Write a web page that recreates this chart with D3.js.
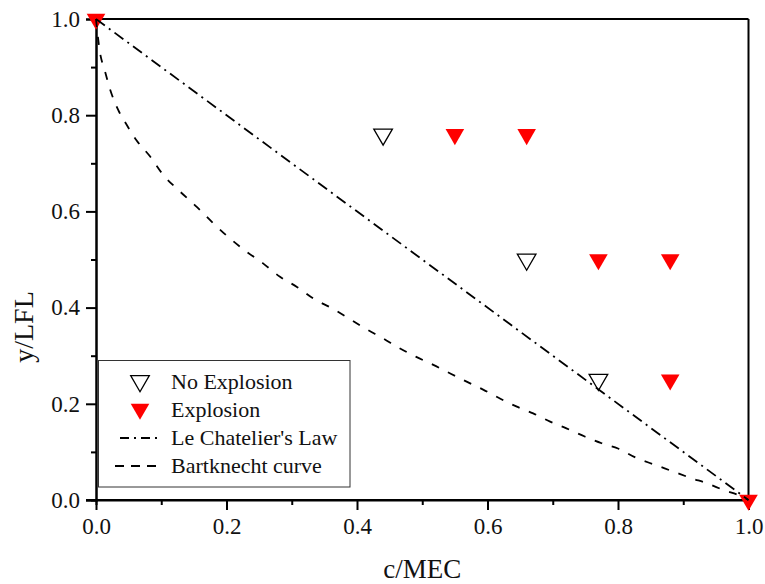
<!DOCTYPE html>
<html>
<head>
<meta charset="utf-8">
<script src="https://cdn.jsdelivr.net/npm/d3@7"></script>
<style>
  html, body { margin: 0; padding: 0; background: #fff; }
  svg { display: block; }
</style>
</head>
<body>
<div id="chart"></div>
<script>
// ---------- data ----------
const xTicks = [0.0, 0.2, 0.4, 0.6, 0.8, 1.0];
const yTicks = [0.0, 0.2, 0.4, 0.6, 0.8, 1.0];
const minorTicks = [0.1, 0.3, 0.5, 0.7, 0.9];

const noExplosionX = [0.44, 0.66, 0.77];
const noExplosionY = [0.76, 0.50, 0.25];

const explosionX = [0.0, 0.55, 0.66, 0.77, 0.88, 0.88, 1.0];
const explosionY = [1.0, 0.76, 0.76, 0.50, 0.50, 0.25, 0.0];

const leChatelierX = [0.0, 1.0];
const leChatelierY = [1.0, 0.0];

const bartknechtX = [0, 0.005, 0.014, 0.022, 0.034, 0.047, 0.062, 0.083, 0.103, 0.129, 0.154, 0.18, 0.205, 0.231, 0.256, 0.282, 0.308, 0.333, 0.361, 0.387, 0.412, 0.44, 0.466, 0.49, 0.517, 0.543, 0.568, 0.594, 0.619, 0.645, 0.67, 0.696, 0.721, 0.749, 0.775, 0.8, 0.829, 0.857, 0.885, 0.913, 0.936, 0.961, 0.99, 1.0];
const bartknechtY = [1.0, 0.94, 0.89, 0.852, 0.811, 0.78, 0.748, 0.714, 0.676, 0.641, 0.61, 0.575, 0.544, 0.516, 0.492, 0.464, 0.443, 0.419, 0.399, 0.378, 0.357, 0.336, 0.315, 0.298, 0.281, 0.263, 0.246, 0.229, 0.211, 0.194, 0.18, 0.163, 0.149, 0.132, 0.118, 0.107, 0.087, 0.073, 0.059, 0.045, 0.035, 0.021, 0.007, 0.0];

const legendLabels = ["No Explosion", "Explosion", "Le Chatelier's Law", "Bartknecht curve"];
const xTitle = "c/MEC";
const yTitle = "y/LFL";

// ---------- layout ----------
const W = 765, H = 584;
const FONT = "'Liberation Serif', 'Times New Roman', Times, serif";
const m = { left: 96, right: 765 - 748.5, top: 19, bottom: 584 - 500 };

const svg = d3.select("#chart").append("svg").attr("width", W).attr("height", H);
svg.append("rect").attr("width", W).attr("height", H).attr("fill", "#fff");

const x = d3.scaleLinear().domain([0, 1]).range([m.left, W - m.right]);
const y = d3.scaleLinear().domain([0, 1]).range([H - m.bottom, m.top]);

// frame (top and right)
svg.append("line").attr("x1", x(0)).attr("x2", x(1)).attr("y1", y(1)).attr("y2", y(1))
  .attr("stroke", "#000").attr("stroke-width", 2);
svg.append("line").attr("x1", x(1)).attr("x2", x(1)).attr("y1", y(0)).attr("y2", y(1))
  .attr("stroke", "#000").attr("stroke-width", 2);

// bottom axis
const fmt = d3.format(".1f");
const gx = svg.append("g").attr("transform", `translate(0,${y(0)})`);
gx.call(d3.axisBottom(x).tickValues(xTicks).tickFormat(fmt).tickSize(10).tickPadding(8));
const gxm = svg.append("g").attr("transform", `translate(0,${y(0)})`);
gxm.call(d3.axisBottom(x).tickValues(minorTicks).tickFormat("").tickSize(5));

// left axis
const gy = svg.append("g").attr("transform", `translate(${x(0)},0)`);
gy.call(d3.axisLeft(y).tickValues(yTicks).tickFormat(fmt).tickSize(10).tickPadding(6));
const gym = svg.append("g").attr("transform", `translate(${x(0)},0)`);
gym.call(d3.axisLeft(y).tickValues(minorTicks).tickFormat("").tickSize(5));

[gx, gxm, gy, gym].forEach(g => {
  g.attr("font-family", null).attr("font-size", null);
  g.select(".domain").attr("stroke", "#000").attr("stroke-width", 2);
  g.selectAll(".tick line").attr("stroke", "#000").attr("stroke-width", 2);
  g.selectAll(".tick text")
    .style("font-family", FONT).style("font-size", "23px").attr("fill", "#111");
});
gx.selectAll(".domain").attr("d", `M${x(0) - 10},0H${x(1)}`);

// axis titles
svg.append("text").attr("x", (x(0) + x(1)) / 2).attr("y", 578)
  .attr("text-anchor", "middle").style("font-family", FONT).style("font-size", "27px")
  .attr("fill", "#111").text(xTitle);
svg.append("text").attr("transform", `translate(33,327) rotate(-90)`)
  .attr("text-anchor", "middle").style("font-family", FONT).style("font-size", "28px")
  .attr("fill", "#111").text(yTitle);

// markers
const tri = d3.symbol().type(d3.symbolTriangle).size(150);
function addMarkers(xs, ys, fill, stroke) {
  svg.append("g").selectAll("path").data(xs.map((v, i) => [v, ys[i]])).join("path")
    .attr("d", tri)
    .attr("transform", d => `translate(${x(d[0])},${y(d[1])}) rotate(180)`)
    .attr("fill", fill).attr("stroke", stroke).attr("stroke-width", stroke === "none" ? 0 : 1.3);
}
addMarkers(noExplosionX, noExplosionY, "#fff", "#000");
addMarkers(explosionX, explosionY, "#ff0000", "none");

// lines
const line = d3.line().x(d => x(d[0])).y(d => y(d[1]));
svg.append("path").datum(leChatelierX.map((v, i) => [v, leChatelierY[i]]))
  .attr("d", line).attr("fill", "none").attr("stroke", "#000").attr("stroke-width", 1.8)
  .attr("stroke-dasharray", "11,5,2,5");
svg.append("path").datum(bartknechtX.map((v, i) => [v, bartknechtY[i]]))
  .attr("d", line.curve(d3.curveMonotoneX)).attr("fill", "none").attr("stroke", "#000").attr("stroke-width", 1.8)
  .attr("stroke-dasharray", "8,10");

// legend
const lg = svg.append("g");
lg.append("rect").attr("x", 98.5).attr("y", 360.5).attr("width", 251.5).attr("height", 126.5)
  .attr("fill", "#fff").attr("stroke", "#333").attr("stroke-width", 1);
const rowY = [382, 410, 438, 466];
[0, 1, 2, 3].forEach((k, i) => {
  const cy = rowY[i];
  if (k === 0) {
    lg.append("path").attr("d", tri).attr("transform", `translate(140,${cy - 1}) rotate(180)`)
      .attr("fill", "#fff").attr("stroke", "#000").attr("stroke-width", 1.3);
  } else if (k === 1) {
    lg.append("path").attr("d", tri).attr("transform", `translate(140,${cy - 1}) rotate(180)`)
      .attr("fill", "#ff0000");
  } else if (k === 2) {
    lg.append("line").attr("x1", 120).attr("x2", 160).attr("y1", cy).attr("y2", cy)
      .attr("stroke", "#000").attr("stroke-width", 1.8).attr("stroke-dasharray", "9,5,2,5");
  } else {
    lg.append("line").attr("x1", 115).attr("x2", 157).attr("y1", cy).attr("y2", cy)
      .attr("stroke", "#000").attr("stroke-width", 1.8).attr("stroke-dasharray", "9,7");
  }
  lg.append("text").attr("x", 171).attr("y", cy + 7)
    .style("font-family", FONT).style("font-size", "22px").attr("fill", "#111")
    .text(legendLabels[i]);
});
</script>
</body>
</html>
